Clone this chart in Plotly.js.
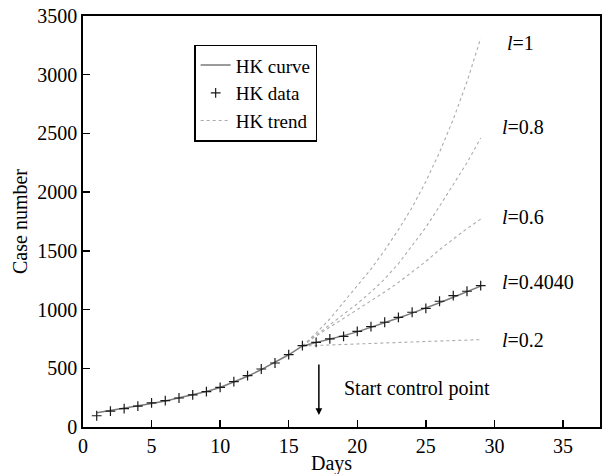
<!DOCTYPE html>
<html>
<head>
<meta charset="utf-8">
<script src="https://cdn.plot.ly/plotly-3.0.1.min.js"></script>
<style>html,body{margin:0;padding:0;background:#fff;}#chart{width:607px;height:474px;}</style>
</head>
<body>
<div id="chart"></div>
<script>
// HK data (observed), days 1..29
const dataDays = [1,2,3,4,5,6,7,8,9,10,11,12,13,14,15,16,17,18,19,20,21,22,23,24,25,26,27,28,29];
const dataCases = [96,136,157,178,206,224,247,273,301,338,386,437,494,545,616,693,721,750,772,815,854,892,934,977,1011,1071,1118,1156,1204];

// HK curve (model fit, l = 0.4040 after day 16)
const curveDays = [1,2,3,4,5,6,7,8,9,10,11,12,13,14,15,16,17,18,19,20,21,22,23,24,25,26,27,28,29];
const curveCases = [122,140,158,178,200,222,247,273,302,337,382,432,488,548,615,690,718,748,778,810,848,888,928,970,1012,1058,1105,1152,1200];

// HK trend lines from the control point (day 16)
const trendDays = [16,17,18,19,20,21,22,23,24,25,26,27,28,29];
const trendL1  = [690,800,920,1060,1200,1345,1505,1680,1870,2090,2340,2620,2940,3310];
const trendL08 = [690,785,870,960,1050,1150,1260,1390,1540,1700,1880,2060,2250,2460];
const trendL06 = [690,775,850,925,1000,1070,1150,1230,1320,1410,1510,1600,1690,1770];
const trendL02 = [690,695,700,705,708,712,716,720,724,728,732,736,740,744];

// l labels at the end of the trend lines
const lLabels = ['<i>l</i>=1', '<i>l</i>=0.8', '<i>l</i>=0.6', '<i>l</i>=0.4040', '<i>l</i>=0.2'];
const lLabelY = [3270, 2555, 1788, 1235, 741];
const lLabelX = [30.8, 30.4, 30.4, 30.4, 30.4];

const font = 'Liberation Serif, Times New Roman, serif';
const trendStyle = {color: '#ababab', width: 1.1, dash: 'dot'};

const trends = [trendL1, trendL08, trendL06, trendL02];
const traces = trends.map((t, i) => ({
  x: trendDays, y: t, type: 'scatter', mode: 'lines',
  name: 'HK trend', legendgroup: 'trend', showlegend: i === 0,
  line: trendStyle, legendrank: 3
}));
traces.push({
  x: curveDays, y: curveCases, type: 'scatter', mode: 'lines',
  name: 'HK curve', line: {color: '#7a7a7a', width: 1.5}, legendrank: 1
});
traces.push({
  x: dataDays, y: dataCases, type: 'scatter', mode: 'markers',
  name: 'HK data', legendrank: 2,
  marker: {symbol: 'cross-thin-open', size: 7, color: '#1a1a1a', line: {color: '#1a1a1a', width: 1.2}}
});

const annotations = lLabels.map((t, i) => ({
  x: lLabelX[i], y: lLabelY[i], xref: 'x', yref: 'y', text: t,
  showarrow: false, xanchor: 'left', yanchor: 'middle',
  font: {family: font, size: 20, color: '#000'}
}));
annotations.push({
  x: 18.85, y: 332, xref: 'x', yref: 'y', text: 'Start control point',
  showarrow: false, xanchor: 'left', yanchor: 'middle',
  font: {family: font, size: 20, color: '#000'}
});
annotations.push({
  x: 17.2, y: 102, ax: 17.2, ay: 545, xref: 'x', yref: 'y', axref: 'x', ayref: 'y',
  text: '', showarrow: true, arrowhead: 2, arrowsize: 0.9, arrowwidth: 1.5, arrowcolor: '#000'
});
// x-axis title, placed as in the reference (slightly left of centre)
annotations.push({
  x: 18.1, y: -0.09, xref: 'x', yref: 'paper', text: 'Days',
  showarrow: false, xanchor: 'center', yanchor: 'middle',
  font: {family: font, size: 20, color: '#000'}
});

const layout = {
  width: 607, height: 474,
  margin: {l: 83, r: 7, t: 16, b: 47},
  paper_bgcolor: '#fff', plot_bgcolor: '#fff',
  font: {family: font, size: 20, color: '#000'},
  showlegend: true,
  legend: {
    x: 0.215, y: 0.93, xanchor: 'left', yanchor: 'top',
    bordercolor: '#000', borderwidth: 1.5, bgcolor: '#fff',
    font: {family: font, size: 19, color: '#000'},
    traceorder: 'normal', itemwidth: 30, tracegroupgap: 0
  },
  xaxis: {
    range: [0, 37.7], tickvals: [0,5,10,15,20,25,30,35],
    ticks: 'inside', ticklen: 7, tickwidth: 1.5, tickcolor: '#000',
    showline: true, linecolor: '#000', linewidth: 1.8, mirror: true,
    showgrid: false, zeroline: false,
    tickfont: {family: font, size: 20, color: '#000'}
  },
  yaxis: {
    range: [0, 3500], tickvals: [0,500,1000,1500,2000,2500,3000,3500],
    ticks: 'inside', ticklen: 7, tickwidth: 1.5, tickcolor: '#000',
    showline: true, linecolor: '#000', linewidth: 1.8, mirror: true,
    showgrid: false, zeroline: false,
    tickfont: {family: font, size: 20, color: '#000'},
    title: {text: 'Case number', font: {family: font, size: 20, color: '#000'}, standoff: 4}
  },
  annotations: annotations
};

Plotly.newPlot('chart', traces, layout, {displayModeBar: false, staticPlot: true});
</script>
</body>
</html>
